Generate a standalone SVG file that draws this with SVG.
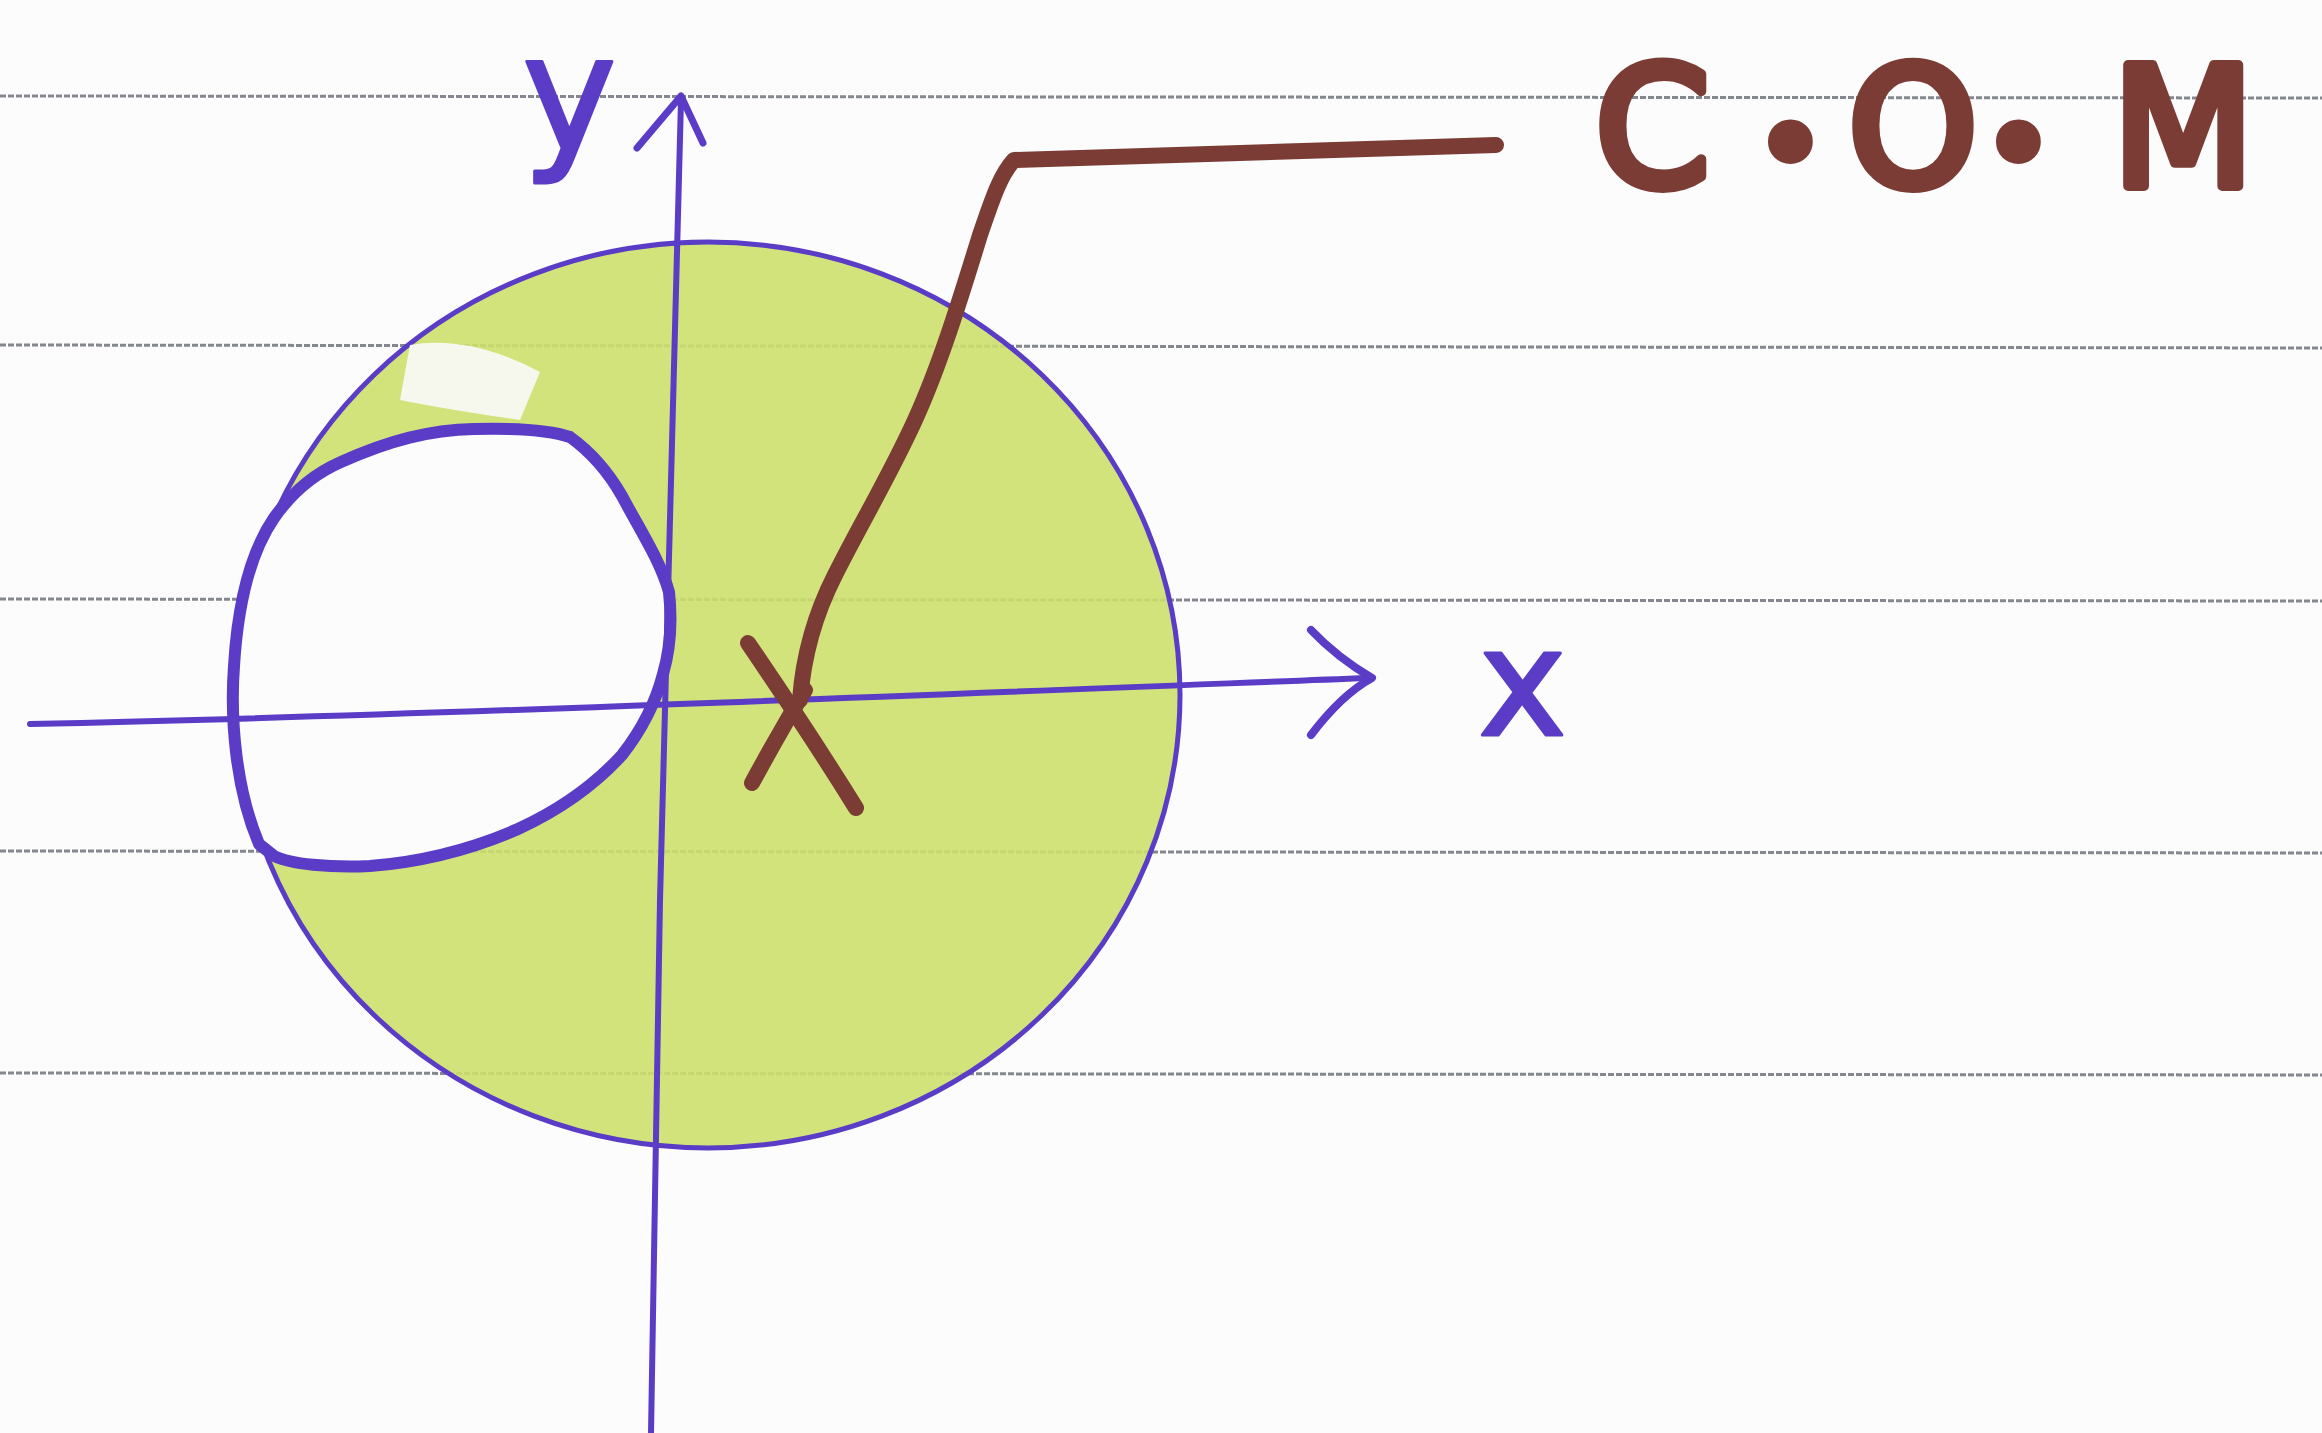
<svg xmlns="http://www.w3.org/2000/svg" width="2322" height="1433" viewBox="0 0 2322 1433">
<style>
.rule{stroke:#85878f;stroke-width:3;stroke-dasharray:6 2;fill:none}
.pen{stroke:#5a3cc6;fill:none;stroke-linecap:round;stroke-linejoin:round}
.brown{stroke:#7a3c34;fill:none;stroke-linecap:round;stroke-linejoin:round}
.lblp{font-family:"DejaVu Sans","Liberation Sans",sans-serif;fill:#5a3cc6;stroke:#5a3cc6;stroke-width:3;stroke-linejoin:round}
.lblb{font-family:"DejaVu Sans","Liberation Sans",sans-serif;fill:#7a3c34;stroke:#7a3c34;stroke-width:10;stroke-linejoin:round}
</style>
<rect width="2322" height="1433" fill="#fcfcfd"/>
<g id="rules">
<line class="rule" x1="0" y1="96" x2="2322" y2="98"/>
<line class="rule" x1="0" y1="345" x2="2322" y2="348"/>
<line class="rule" x1="0" y1="599" x2="2322" y2="601"/>
<line class="rule" x1="0" y1="851" x2="2322" y2="853"/>
<line class="rule" x1="0" y1="1073" x2="2322" y2="1075"/>
</g>
<g id="disc">
<ellipse cx="708" cy="695" rx="472" ry="453" fill="#cde06e" fill-opacity="0.9"/>
<ellipse cx="708" cy="695" rx="472" ry="453" class="pen" stroke-width="5"/>
<path d="M410 345 Q470 335 540 372 L520 420 Q450 410 400 400 Z" fill="#f6f8ee"/>
</g>
<g id="hole">
<path d="M259 844 C236 790 230 720 234 666 C238 600 252 550 274 518 C295 488 318 472 341 462 C390 440 430 430 474 429 C515 428 550 430 570 437 C595 455 610 475 622 496 C640 530 660 560 669 592 C672 620 670 650 663 674 C655 705 640 732 622 755 C590 790 555 812 518 829 C470 850 420 862 370 866 C330 868 290 864 274 856 Z" style="fill:#fcfcfd" class="pen" stroke-width="12"/>
</g>
<g id="axes">
<path class="pen" stroke-width="6" d="M681 100 C676 300 668 600 660 900 C656 1100 652 1300 651 1433"/>
<path class="pen" stroke-width="7" d="M637 148 L681 96 L703 143"/>
<path class="pen" stroke-width="6" d="M30 724 C400 716 900 696 1368 678"/>
<path class="pen" stroke-width="8" d="M1311 630 C1330 650 1350 665 1372 678 C1350 690 1330 710 1311 735"/>
<text class="lblp" x="1478" y="735" font-size="150">x</text>
<text class="lblp" x="522" y="150" font-size="160">y</text>
</g>
<g id="com">
<path class="brown" stroke-width="16" d="M800 700 C803 660 812 620 835 575 C860 525 890 475 915 420 C940 365 960 300 980 235 C992 200 1000 175 1014 160 L1496 145"/>
<path class="brown" stroke-width="16" d="M748 643 C780 690 820 750 856 808"/>
<path class="brown" stroke-width="16" d="M752 783 C770 750 790 715 805 690"/>
<text class="lblb" y="186" font-size="165"><tspan x="1595">C</tspan><tspan x="1755" font-size="120">•</tspan><tspan x="1848">O</tspan><tspan x="1983" font-size="120">•</tspan><tspan x="2112">M</tspan></text>
</g>
</svg>
